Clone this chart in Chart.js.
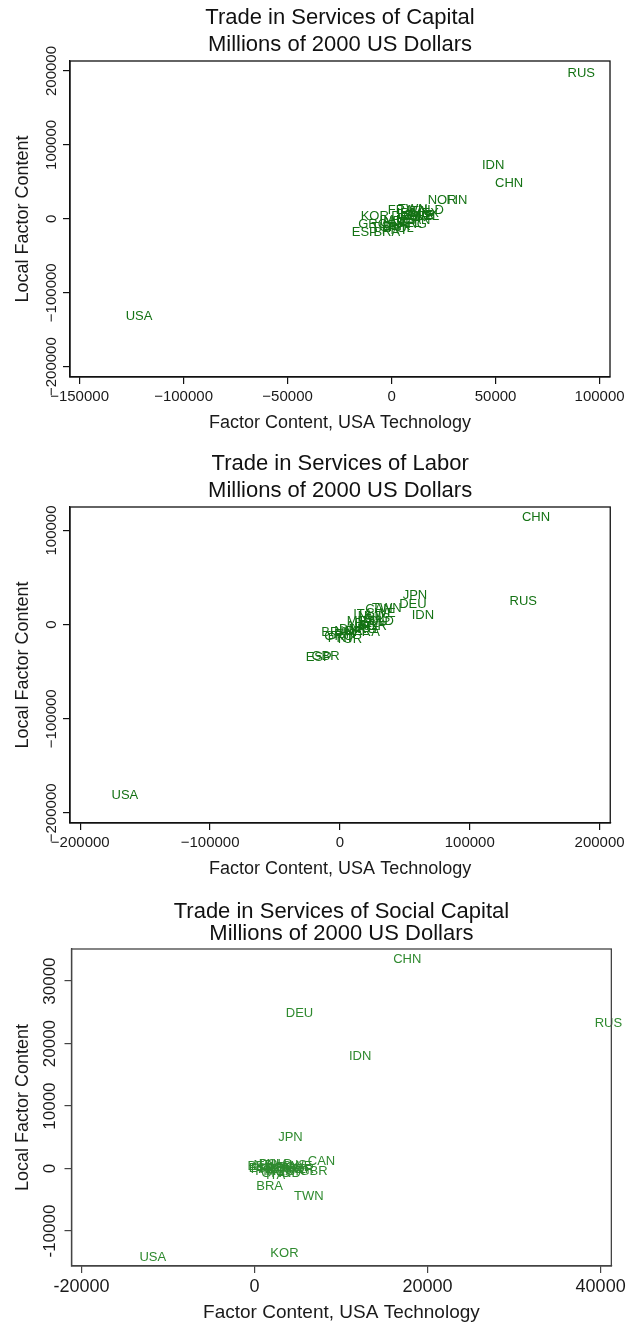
<!DOCTYPE html>
<html>
<head>
<meta charset="utf-8">
<script src="https://cdn.jsdelivr.net/npm/chart.js@4.4.1/dist/chart.umd.min.js"></script>
<style>
  body { margin: 0; background: #fff; }
  .panel { position: absolute; left: 0; width: 629px; }
</style>
</head>
<body>
<div class="panel" style="top:0px"><canvas id="capital" width="629" height="446"></canvas></div>
<div class="panel" style="top:446px"><canvas id="labor" width="629" height="446"></canvas></div>
<div class="panel" style="top:892px"><canvas id="social" width="629" height="436"></canvas></div>
<script>
// Country codes, same order in every series
const countries = ['USA','RUS','CHN','IDN','JPN','DEU','TWN','KOR','BRA','ESP','GBR','CAN','FRA','ITA','NLD','MEX',
  'AUS','BEL','AUT','SWE','DNK','NOR','FIN','GRC','IND','POL','PRT','TUR','NZL','ARG','IRL'];

// Capital
const capitalX = [-121400, 91200, 56500, 48800, 8300, 6400, 10200, -8100, -2300, -12900, 14100, 12100, 4400, 12100, 18900, 16000,
  4400, 8300, 1500, 13100, 2500, 24300, 31400, -9100, -400, 4400, 1500, -3300, 17000, 10200, 7300];
const capitalY = [-131800, 196800, 47900, 72700, 500, 2700, 12600, 2700, -18500, -18500, 2700, -1800, 10800, 9500, 11700, 7200,
  -1800, -6300, -5400, 5000, -10800, 25300, 25300, -7200, -4100, -13100, -15300, -11700, 3600, -7200, 7200];

// Labor
const laborX = [-165600, 141200, 151000, 63900, 57800, 56200, 36100, 25300, -4000, -16400, -11100, 30000, 20700, 17600, 23800, 16100,
  28400, 20700, 14500, 31500, 9900, 6800, 3700, -900, 33000, 25300, 600, 6800, 13000, 17600, 22200];
const laborY = [-181400, 24800, 113400, 9900, 31200, 22000, 17700, -1800, -8100, -34400, -33700, 16600, -8100, 10600, 8900, 3500,
  7100, 1800, -1800, 12400, -5300, -7100, -10600, -12400, 3500, 3500, -14200, -15900, -7100, -5300, -1800];

// Social capital
const socialX = [-11750, 40900, 17650, 12210, 4150, 5200, 6270, 3460, 1750, 830, 6820, 7740, 3820, 2440, 2900, 2900,
  4520, 600, 1980, 4980, 3360, 5210, 1290, 2440, 4060, 1980, 1060, 4290, 1290, 3130, 4750];
const socialY = [-14200, 23280, 33420, 17940, 4970, 24770, -4480, -13560, -2780, 50, -480, 1120, 50, -1170, 590, -480,
  430, 320, -210, 320, -210, -210, -480, -750, -750, 590, -110, -480, 430, 210, -110];

// tick labels
const capitalXTicks = [-150000, -100000, -50000, 0, 50000, 100000];
const capitalYTicks = [-200000, -100000, 0, 100000, 200000];
const laborXTicks = [-200000, -100000, 0, 100000, 200000];
const laborYTicks = [-200000, -100000, 0, 100000];
const socialXTicks = [-20000, 0, 20000, 40000];
const socialYTicks = [-10000, 0, 10000, 20000, 30000];

const FONT = '"Liberation Sans", Arial, sans-serif';
const INK = '#1a1a1a';

// draws country codes centred on each point
const labelPlugin = {
  id: 'pointLabels',
  afterDatasetsDraw(chart, args, opts) {
    const ctx = chart.ctx;
    const meta = chart.getDatasetMeta(0);
    const ds = chart.data.datasets[0];
    ctx.save();
    ctx.font = opts.size + 'px ' + FONT;
    ctx.fillStyle = opts.color;
    ctx.textAlign = 'center';
    ctx.textBaseline = 'middle';
    meta.data.forEach((pt, i) => {
      ctx.fillText(ds.data[i].name, pt.x, pt.y);
    });
    ctx.restore();
  }
};

// plot region border + rotated y tick labels
const framePlugin = {
  id: 'frame',
  afterDraw(chart, args, opts) {
    const {ctx, chartArea: a} = chart;
    ctx.save();
    ctx.strokeStyle = opts.border;
    ctx.lineWidth = 1.3;
    ctx.strokeRect(a.left, a.top, a.right - a.left, a.bottom - a.top);
    const ys = chart.scales.y;
    ctx.font = opts.tickSize + 'px ' + FONT;
    ctx.fillStyle = INK;
    ctx.textAlign = 'center';
    ctx.textBaseline = 'middle';
    ys.ticks.forEach(t => {
      const py = ys.getPixelForValue(t.value);
      ctx.save();
      ctx.translate(a.left - opts.tickOffset, py);
      ctx.rotate(-Math.PI / 2);
      ctx.fillText(opts.fmt(t.value), 0, 0);
      ctx.restore();
    });
    ctx.restore();
  }
};

const minusFmt = v => v < 0 ? '\u2212' + Math.abs(v) : String(v);
const hyphenFmt = v => String(v);

function makeChart(id, c) {
  const pts = countries.map((n, i) => ({x: c.xs[i], y: c.ys[i], name: n}));
  return new Chart(document.getElementById(id), {
    type: 'scatter',
    data: { datasets: [{ data: pts, pointRadius: 0, pointHoverRadius: 0 }] },
    plugins: [labelPlugin, framePlugin],
    options: {
      responsive: false,
      animation: false,
      events: [],
      layout: { padding: { left: 0, right: c.padRight, top: 0, bottom: 0 } },
      plugins: {
        legend: { display: false },
        tooltip: { enabled: false },
        title: {
          display: true,
          fullSize: false,
          text: c.title,
          color: '#111',
          font: { family: FONT, size: 22, weight: 'normal', lineHeight: c.titleLH },
          padding: { top: c.titleTop, bottom: c.titleBottom }
        },
        pointLabels: { size: 13, color: c.labelColor },
        frame: { border: c.border, tickSize: c.yTickSize, tickOffset: c.yTickOffset, fmt: c.fmt }
      },
      scales: {
        x: {
          type: 'linear',
          min: c.xMin, max: c.xMax,
          afterBuildTicks: s => { s.ticks = c.xTicks.map(v => ({value: v})); },
          afterFit: s => { s.height = c.xHeight; },
          grid: { drawOnChartArea: false, drawTicks: true, tickLength: 7, color: c.border, lineWidth: 1.2 },
          border: { display: true, color: c.border, width: 1.3 },
          ticks: { autoSkip: false, maxRotation: 0, padding: c.xTickPad, color: INK,
            font: { family: FONT, size: c.xTickSize }, callback: v => c.fmt(v) },
          title: { display: true, text: 'Factor Content, USA Technology', color: INK,
            font: { family: FONT, size: c.axisSize }, padding: { top: 0, bottom: c.xTitlePad } }
        },
        y: {
          type: 'linear',
          min: c.yMin, max: c.yMax,
          afterBuildTicks: s => { s.ticks = c.yTicks.map(v => ({value: v})); },
          afterFit: s => { s.width = c.yWidth; },
          grid: { drawOnChartArea: false, drawTicks: true, tickLength: 7, color: c.border, lineWidth: 1.2 },
          border: { display: true, color: c.border, width: 1.3 },
          ticks: { display: false },
          title: { display: true, text: 'Local Factor Content', color: INK,
            font: { family: FONT, size: 18 }, padding: { top: 12, bottom: 0 } }
        }
      }
    }
  });
}

makeChart('capital', {
  xs: capitalX, ys: capitalY, xTicks: capitalXTicks, yTicks: capitalYTicks,
  title: ['Trade in Services of Capital', 'Millions of 2000 US Dollars'],
  titleLH: 27 / 22, titleTop: 4.5, titleBottom: 2.5,
  xMin: -154600, xMax: 105000, yMin: -214000, yMax: 213500,
  padRight: 18, yWidth: 70, xHeight: 69, xTickPad: 4, xTitlePad: 12, xTickSize: 15, axisSize: 18,
  yTickSize: 15, yTickOffset: 18, fmt: minusFmt, labelColor: '#147214', border: '#111'
});

makeChart('labor', {
  xs: laborX, ys: laborY, xTicks: laborXTicks, yTicks: laborYTicks,
  title: ['Trade in Services of Labor', 'Millions of 2000 US Dollars'],
  titleLH: 27 / 22, titleTop: 4.5, titleBottom: 2.5,
  xMin: -207900, xMax: 208200, yMin: -210800, yMax: 125000,
  padRight: 18, yWidth: 70, xHeight: 69, xTickPad: 4, xTitlePad: 12, xTickSize: 15, axisSize: 18,
  yTickSize: 15, yTickOffset: 18, fmt: minusFmt, labelColor: '#147214', border: '#111'
});

makeChart('social', {
  xs: socialX, ys: socialY, xTicks: socialXTicks, yTicks: socialYTicks,
  title: ['Trade in Services of Social Capital', 'Millions of 2000 US Dollars'],
  titleLH: 21.6 / 22, titleTop: 9.2, titleBottom: 4.6,
  xMin: -21150, xMax: 41240, yMin: -15590, yMax: 35130,
  padRight: 14, yWidth: 71.5, xHeight: 62, xTickPad: 3, xTitlePad: 4, xTickSize: 18, axisSize: 19,
  yTickSize: 17, yTickOffset: 21, fmt: hyphenFmt, labelColor: '#2f8a2f', border: '#444'
});
</script>
</body>
</html>
